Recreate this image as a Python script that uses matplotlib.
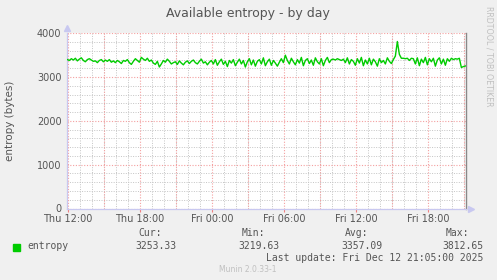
import matplotlib
matplotlib.use("Agg")
import matplotlib.pyplot as plt
import numpy as np
from matplotlib.ticker import MultipleLocator

# ---- data (hours since Thu 12:00, 10-minute samples) ----
entropy = [
    3400, 3380, 3420, 3390, 3430, 3370,
    3410, 3440, 3380, 3350, 3400, 3420,
    3390, 3360, 3370, 3330, 3380, 3400,
    3350, 3390, 3360, 3400, 3340, 3370,
    3330, 3380, 3350, 3310, 3380, 3360,
    3400, 3330, 3290, 3360, 3420, 3380,
    3340, 3450, 3410, 3380, 3430, 3360,
    3390, 3320, 3290, 3360, 3230, 3300,
    3380, 3340, 3410, 3360, 3300, 3330,
    3350, 3290, 3370, 3320, 3280, 3340,
    3370, 3310, 3360, 3390, 3330, 3300,
    3360, 3410, 3320, 3350, 3280, 3340,
    3380, 3300, 3400, 3270, 3350, 3410,
    3290, 3360, 3240, 3380, 3320, 3400,
    3260, 3340, 3410, 3300, 3380, 3230,
    3350, 3420, 3280, 3390, 3250, 3360,
    3400, 3300, 3440, 3260, 3350, 3410,
    3270, 3380, 3320, 3250, 3340, 3420,
    3330, 3500, 3380, 3300, 3430, 3350,
    3280, 3400, 3320, 3450, 3260, 3380,
    3420, 3310, 3390, 3270, 3440, 3350,
    3300, 3420, 3260, 3380, 3450, 3330,
    3400, 3410, 3390, 3420, 3400, 3380,
    3410, 3330, 3440, 3300, 3400, 3360,
    3270, 3420, 3320, 3450, 3260, 3390,
    3300, 3430, 3280, 3410, 3350, 3250,
    3420, 3330, 3380, 3300, 3440, 3360,
    3310, 3400, 3480, 3812.65, 3520, 3430,
    3430, 3420, 3430, 3380, 3430, 3420,
    3300, 3440, 3260, 3410, 3330, 3450,
    3280, 3420, 3350, 3430, 3250, 3390,
    3440, 3300, 3410, 3270, 3420, 3360,
    3430, 3400, 3420, 3410, 3430, 3219.63,
    3240, 3253.33,
]
xtick_pos = [0, 6, 12, 18, 24, 30]
xtick_labels = ["Thu 12:00", "Thu 18:00", "Fri 00:00", "Fri 06:00", "Fri 12:00", "Fri 18:00"]
ytick_pos = [0, 1000, 2000, 3000, 4000]
stat_names = ["Cur:", "Min:", "Avg:", "Max:"]
stat_values = ["3253.33", "3219.63", "3357.09", "3812.65"]

W, H = 497, 280
fig = plt.figure(figsize=(W / 100, H / 100), dpi=100, facecolor="#F0F0F0")

x0, x1, ytop, ybot = 67, 466, 33.3, 208.5
ax = fig.add_axes([x0 / W, 1 - ybot / H, (x1 - x0) / W, (ybot - ytop) / H])
ax.set_facecolor("white")

hours = np.arange(len(entropy)) / 6.0 - 0.05
ax.plot(hours, entropy, color="#00CC00", lw=1.0, zorder=5)

ax.set_xlim(-0.08, 33.17)
ax.set_ylim(0, 4000)

# grid
ax.xaxis.set_minor_locator(MultipleLocator(1))
ax.yaxis.set_minor_locator(MultipleLocator(200))
ax.grid(which="minor", color="#C4C4C4", ls=(0, (1, 1.5)), lw=0.7, zorder=1)
for h in np.arange(0, 34, 3):
    ax.axvline(h, color="#F4A0A0", ls=(0, (1, 1.5)), lw=0.8, zorder=2)
for v in ytick_pos:
    ax.axhline(v, color="#F4A0A0", ls=(0, (1, 1.5)), lw=0.8, zorder=2)

ax.set_xticks(xtick_pos)
ax.set_xticklabels(xtick_labels)
ax.set_yticks(ytick_pos)
ax.set_yticklabels([str(v) for v in ytick_pos])
ax.tick_params(axis="both", which="major", labelsize=7, labelcolor="#555555",
               length=2, width=0.8, color="#F08080", pad=2)
ax.tick_params(axis="both", which="minor", length=0)
ax.tick_params(axis="y", which="major", length=0, pad=4)

ax.spines["top"].set_visible(False)
ax.spines["left"].set_color("#C8C8F0")
ax.spines["bottom"].set_color("#C8C8F0")
ax.spines["left"].set_linewidth(0.9)
ax.spines["bottom"].set_linewidth(0.9)
ax.spines["right"].set_color("#888888")
ax.spines["right"].set_linewidth(1.0)

# axis arrows
ax.plot([-0.08], [4130], marker="^", color="#C8C8F0", ms=5, clip_on=False, zorder=6)
ax.plot([33.55], [0], marker=">", color="#C8C8F0", ms=5, clip_on=False, zorder=6)

fig.text(10 / W, 1 - 121 / H, "entropy (bytes)", rotation=90, ha="center", va="center",
         fontsize=7.5, color="#555555")

fig.text(248 / W, 1 - 13 / H, "Available entropy - by day", ha="center", va="center",
         fontsize=9, color="#555555")
fig.text(489 / W, 1 - 56 / H, "RRDTOOL / TOBI OETIKER", rotation=270, ha="center",
         va="center", fontsize=5.7, color="#C0C0C0")

# legend / stats
mono = "DejaVu Sans Mono"
fig.patches.append(plt.Rectangle((13 / W, 1 - 251 / H), 7 / W, 7 / H,
                                 transform=fig.transFigure, color="#00CC00"))
fig.text(27 / W, 1 - 246 / H, "entropy", fontsize=7, family=mono, color="#555555",
         ha="left", va="center")
stat_x = [176, 279, 382, 483]
for sx, nm, val in zip(stat_x, stat_names, stat_values):
    fig.text((sx - 14) / W, 1 - 233 / H, nm, fontsize=7, family=mono, color="#555555",
             ha="right", va="center")
    fig.text(sx / W, 1 - 246 / H, val, fontsize=7, family=mono, color="#555555",
             ha="right", va="center")
fig.text(483 / W, 1 - 258 / H, "Last update: Fri Dec 12 21:05:00 2025", fontsize=7,
         family=mono, color="#555555", ha="right", va="center")
fig.text(248 / W, 1 - 269 / H, "Munin 2.0.33-1", fontsize=5.5, color="#C0C0C0",
         ha="center", va="center")

fig.savefig("out.png", dpi=100, facecolor="#F0F0F0")
